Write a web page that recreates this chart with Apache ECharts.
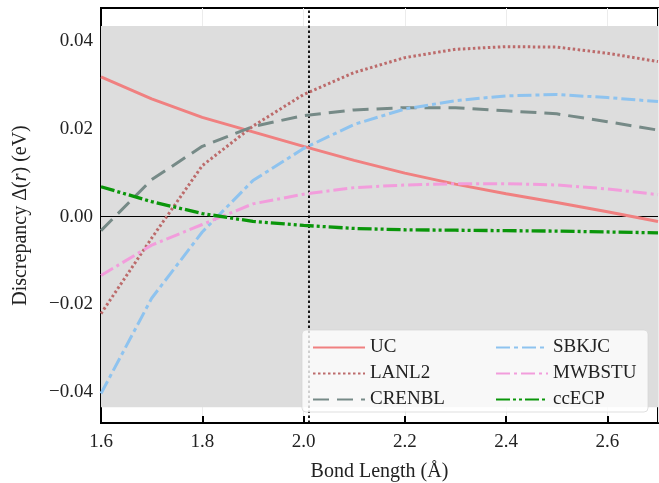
<!DOCTYPE html>
<html>
<head>
<meta charset="utf-8">
<script src="https://cdn.jsdelivr.net/npm/echarts@6/dist/echarts.min.js"></script>
<style>
  html, body { margin: 0; padding: 0; background: #fff; }
  #main { width: 659px; height: 483px; }
</style>
</head>
<body>
<div id="main"></div>
<script>
// bond lengths (Angstrom)
var bondLength = [1.6, 1.7, 1.8, 1.9, 2.0, 2.1, 2.2, 2.3, 2.4, 2.5, 2.6, 2.7];

// discrepancy (eV) per ECP
var uc     = [0.0318, 0.0268, 0.0226, 0.0193, 0.0160, 0.0128, 0.0099, 0.0074, 0.0052, 0.0032, 0.0011, -0.0011];
var lanl2  = [-0.0221, -0.0049, 0.0116, 0.0206, 0.0278, 0.0328, 0.0362, 0.0381, 0.0387, 0.0386, 0.0372, 0.0353];
var crenbl = [-0.0032, 0.0084, 0.0160, 0.0205, 0.0230, 0.0243, 0.0248, 0.0248, 0.0241, 0.0234, 0.0216, 0.0197];
var sbkjc  = [-0.0403, -0.0186, -0.0035, 0.0082, 0.0155, 0.0210, 0.0245, 0.0264, 0.0275, 0.0278, 0.0271, 0.0262];
var mwbstu = [-0.0134, -0.0065, -0.0018, 0.0029, 0.0051, 0.0066, 0.0072, 0.0075, 0.0075, 0.0072, 0.0063, 0.0050];
var ccecp  = [0.0068, 0.0034, 0.0007, -0.0011, -0.0020, -0.0027, -0.0030, -0.0031, -0.0032, -0.0033, -0.0035, -0.0037];

var yTicks = [-0.04, -0.02, 0.00, 0.02, 0.04];
var chemAcc = 0.0434;   // 1 kcal/mol band
var eqBond = 2.01;      // vertical marker

var FONT = 'Liberation Serif';

function pairs(ys) {
	return bondLength.map(function (x, i) { return [x, ys[i]]; });
}

function mkLine(name, ys, color, width, dash) {
	return {
		name: name,
		type: 'line',
		data: pairs(ys),
		symbol: 'none',
		z: 5,
		lineStyle: { color: color, width: width, type: dash, cap: 'butt' },
		itemStyle: { color: color }
	};
}

var chart = echarts.init(document.getElementById('main'));

var legendBase = {
	orient: 'vertical',
	top: 333,
	itemWidth: 52, itemHeight: 14, itemGap: 7,
	z: 60,
	itemStyle: { opacity: 0 },
	textStyle: { fontFamily: FONT, fontSize: 19, color: '#222' }
};

var option = {
	backgroundColor: '#fff',
	animation: false,
	grid: {
		left: 101, right: 1, top: 8, bottom: 60,
		outerBoundsMode: 'none',
		show: true,
		borderColor: '#000',
		borderWidth: 2,
		backgroundColor: '#fff'
	},
	xAxis: {
		type: 'value',
		min: 1.6,
		max: 2.7,
		interval: 0.2,
		name: 'Bond Length (Å)',
		nameLocation: 'middle',
		nameGap: 39,
		nameTextStyle: { fontFamily: FONT, fontSize: 20, color: '#222' },
		axisLine: { onZero: false, lineStyle: { color: '#000', width: 2 } },
		axisTick: { inside: true, length: 7, lineStyle: { color: '#000', width: 2 } },
		axisLabel: {
			fontFamily: FONT, fontSize: 19, color: '#222', margin: 10,
			showMaxLabel: false,
			formatter: function (v) { return v.toFixed(1); }
		},
		splitLine: { show: true, lineStyle: { color: '#ececec', width: 1 } }
	},
	yAxis: {
		type: 'value',
		min: -0.047,
		max: 0.0475,
		name: 'Discrepancy Δ({i|r}) (eV)',
		nameLocation: 'middle',
		nameGap: 70,
		nameTextStyle: {
			fontFamily: FONT, fontSize: 20, color: '#222',
			rich: { i: { fontFamily: FONT, fontSize: 20, fontStyle: 'italic', color: '#222' } }
		},
		axisLine: { onZero: false, lineStyle: { color: '#000', width: 2 } },
		axisTick: { inside: true, length: 7, customValues: yTicks, lineStyle: { color: '#000', width: 2 } },
		axisLabel: {
			fontFamily: FONT, fontSize: 19, color: '#222', margin: 8,
			customValues: yTicks,
			formatter: function (v) { return v.toFixed(2).replace('-', '\u2212'); }
		},
		splitLine: { show: true, lineStyle: { color: '#ececec', width: 1 } }
	},
	legend: [
		Object.assign({}, legendBase, { data: ['UC', 'LANL2', 'CRENBL'], left: 307 }),
		Object.assign({}, legendBase, { data: ['SBKJC', 'MWBSTU', 'ccECP'], left: 490 })
	],
	graphic: [{
		type: 'rect',
		z: 50,
		shape: { x: 302, y: 330, width: 346, height: 82, r: 4 },
		style: { fill: 'rgba(255,255,255,0.8)', stroke: 'rgba(215,215,215,0.8)', lineWidth: 1 }
	}],
	series: [
		{
			// accuracy band, zero line and equilibrium marker
			type: 'line',
			data: [],
			z: 1,
			silent: true,
			markArea: {
				silent: true,
				itemStyle: { color: '#dddddd' },
				data: [[{ yAxis: -chemAcc }, { yAxis: chemAcc }]]
			},
			markLine: {
				silent: true,
				symbol: 'none',
				label: { show: false },
				data: [
					{ yAxis: 0, lineStyle: { color: '#000', width: 1.2, type: 'solid' } },
					{ xAxis: eqBond, lineStyle: { color: '#000', width: 1.8, type: [2.5, 2.5] } }
				]
			}
		},
		mkLine('UC', uc, '#f08080', 3, 'solid'),
		mkLine('LANL2', lanl2, '#bc6b6b', 3, [2.5, 2.5]),
		mkLine('CRENBL', crenbl, '#768a87', 3, [16, 8]),
		mkLine('SBKJC', sbkjc, '#8ec3ef', 3, [14, 4, 4, 4]),
		mkLine('MWBSTU', mwbstu, '#f29ddc', 3, [14, 4, 3, 4]),
		mkLine('ccECP', ccecp, '#0a960a', 3.3, [14, 3, 3, 3, 3, 3])
	]
};

chart.setOption(option);
</script>
</body>
</html>
